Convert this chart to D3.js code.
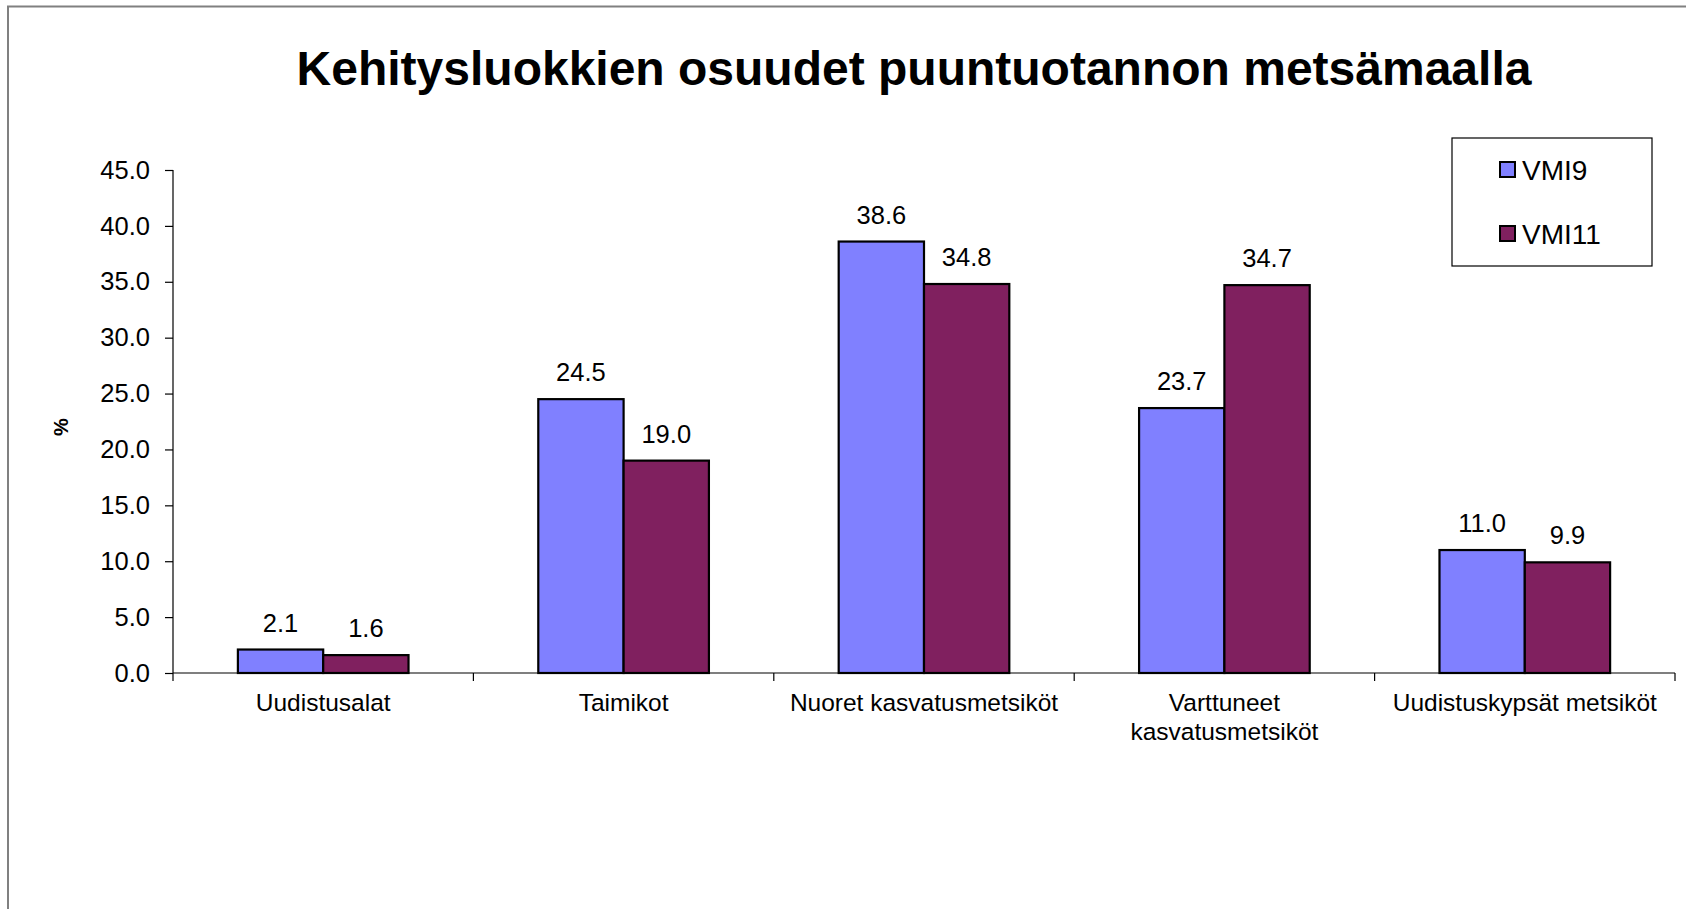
<!DOCTYPE html>
<html>
<head>
<meta charset="utf-8">
<script src="https://cdn.jsdelivr.net/npm/d3@7"></script>
<style>
  html, body { margin: 0; padding: 0; background: #fff; overflow: hidden; }
  svg { display: block; font-family: "Liberation Sans", Arial, sans-serif; }
</style>
</head>
<body>
<svg id="chart" width="1686" height="909"></svg>
<script>
const title = "Kehitysluokkien osuudet puuntuotannon metsämaalla";
const categories = [
  ["Uudistusalat"],
  ["Taimikot"],
  ["Nuoret kasvatusmetsiköt"],
  ["Varttuneet", "kasvatusmetsiköt"],
  ["Uudistuskypsät metsiköt"]
];
const seriesNames = ["VMI9", "VMI11"];
const vmi9 = [2.1, 24.5, 38.6, 23.7, 11.0];
const vmi11 = [1.6, 19.0, 34.8, 34.7, 9.9];
const yTicks = [0, 5, 10, 15, 20, 25, 30, 35, 40, 45];
const yLabel = "%";
const colors = ["#8080FF", "#80205F"];

const svg = d3.select("#chart");
const W = 1686, H = 909;

// outer chart-area border (continues past the right and bottom edges)
svg.append("rect")
  .attr("x", 8).attr("y", 6.5)
  .attr("width", W + 20).attr("height", H + 20)
  .attr("fill", "#fff").attr("stroke", "#808080").attr("stroke-width", 2);

const plot = { left: 173, right: 1675, top: 170, bottom: 673 };

const catKeys = categories.map(c => c.join(" "));
const x0 = d3.scaleBand().domain(catKeys).range([plot.left, plot.right]).padding(0);
const bw = x0.bandwidth();
const gap = bw * 0.216;
const x1 = d3.scaleBand().domain(seriesNames).range([gap, bw - gap]).padding(0);
const y = d3.scaleLinear().domain([0, 45]).range([plot.bottom, plot.top]);

// title
svg.append("text")
  .attr("x", 914).attr("y", 85)
  .attr("text-anchor", "middle")
  .attr("font-size", 48).attr("font-weight", "bold")
  .attr("fill", "#000")
  .text(title);

// bars
const data = catKeys.map((k, i) => ({ key: k, values: [vmi9[i], vmi11[i]] }));
const groups = svg.append("g").selectAll("g").data(data).join("g")
  .attr("transform", d => `translate(${x0(d.key)},0)`);

groups.selectAll("rect").data(d => d.values.map((v, j) => ({ s: seriesNames[j], v, j })))
  .join("rect")
  .attr("x", d => x1(d.s))
  .attr("y", d => y(d.v))
  .attr("width", x1.bandwidth())
  .attr("height", d => y(0) - y(d.v))
  .attr("fill", d => colors[d.j])
  .attr("stroke", "#000").attr("stroke-width", 2.2);

groups.selectAll("text.val").data(d => d.values.map((v, j) => ({ s: seriesNames[j], v, j })))
  .join("text").attr("class", "val")
  .attr("x", d => x1(d.s) + x1.bandwidth() / 2)
  .attr("y", d => y(d.v) - 18)
  .attr("text-anchor", "middle")
  .attr("font-size", 25.5).attr("fill", "#000")
  .text(d => d3.format(".1f")(d.v));

// y axis
const yAxis = d3.axisLeft(y).tickValues(yTicks).tickSize(8).tickPadding(15)
  .tickFormat(d3.format(".1f"));
const gy = svg.append("g").attr("transform", `translate(${plot.left},0)`).call(yAxis);
gy.select(".domain").attr("stroke", "#000").attr("stroke-width", 1.2).attr("d", `M-0,${plot.top}V${plot.bottom}`);
gy.selectAll(".tick line").attr("stroke", "#000").attr("stroke-width", 1.2);
gy.selectAll(".tick text").attr("font-size", 25.5).attr("fill", "#000")
  .attr("font-family", "Liberation Sans, Arial, sans-serif");

// x axis: line + boundary ticks
const gx = svg.append("g");
gx.append("line")
  .attr("x1", plot.left).attr("x2", plot.right)
  .attr("y1", y(0)).attr("y2", y(0))
  .attr("stroke", "#000").attr("stroke-width", 1.2);
const boundaries = catKeys.map(k => x0(k)).concat([x0(catKeys[catKeys.length - 1]) + bw]);
gx.selectAll("line.t").data(boundaries).join("line").attr("class", "t")
  .attr("x1", d => d).attr("x2", d => d)
  .attr("y1", y(0)).attr("y2", y(0) + 8)
  .attr("stroke", "#000").attr("stroke-width", 1.2);

const catText = gx.selectAll("text.cat").data(categories).join("text").attr("class", "cat")
  .attr("x", (d, i) => x0(catKeys[i]) + bw / 2)
  .attr("y", y(0) + 38)
  .attr("text-anchor", "middle")
  .attr("font-size", 24.5).attr("fill", "#000");
catText.selectAll("tspan").data(d => d).join("tspan")
  .attr("x", function () { return d3.select(this.parentNode).attr("x"); })
  .attr("dy", (d, i) => i === 0 ? 0 : 29)
  .text(d => d);

// y label
svg.append("text")
  .attr("transform", "translate(68,427) rotate(-90)")
  .attr("text-anchor", "middle")
  .attr("font-size", 20).attr("font-weight", "bold").attr("fill", "#000")
  .text(yLabel);

// legend
const lg = svg.append("g");
lg.append("rect").attr("x", 1452).attr("y", 138).attr("width", 200).attr("height", 128)
  .attr("fill", "#fff").attr("stroke", "#000").attr("stroke-width", 1.2);
const items = lg.selectAll("g.item").data(seriesNames).join("g").attr("class", "item")
  .attr("transform", (d, i) => `translate(1500,${162 + i * 64})`);
items.append("rect").attr("x", 0).attr("y", 0).attr("width", 15).attr("height", 15)
  .attr("fill", (d, i) => colors[i]).attr("stroke", "#000").attr("stroke-width", 2);
items.append("text").attr("x", 22).attr("y", 18)
  .attr("font-size", 28).attr("fill", "#000")
  .text(d => d);
</script>
</body>
</html>
